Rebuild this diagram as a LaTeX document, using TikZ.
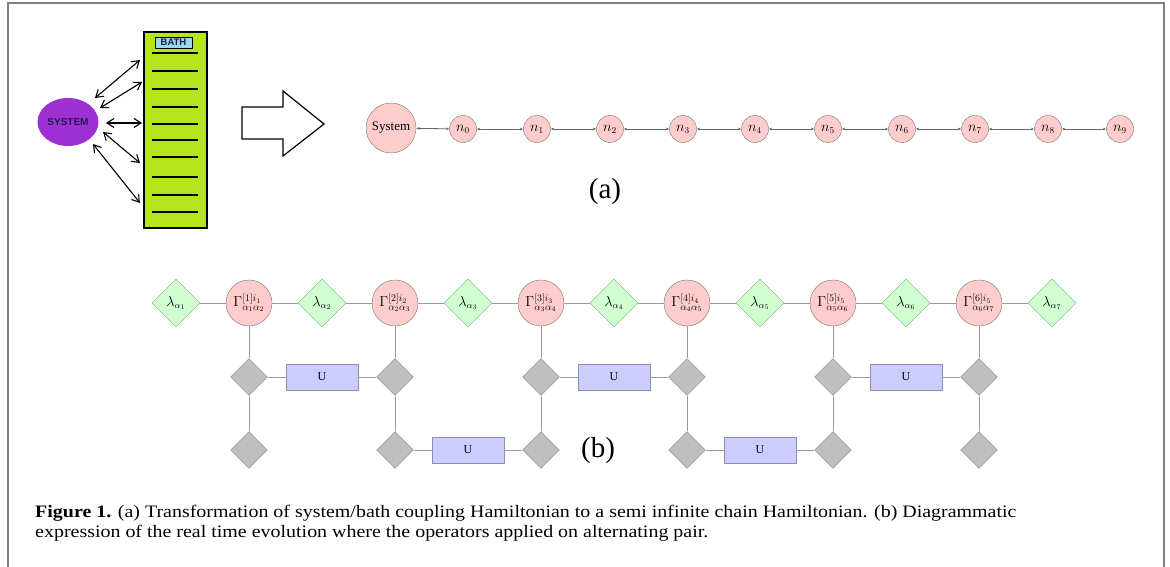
\documentclass[tikz,border=0pt]{standalone}
\usepackage{fontspec}
\setmainfont{Liberation Serif}
\newfontfamily\arialfont{Liberation Sans}
\usetikzlibrary{shapes.geometric,arrows.meta}
\definecolor{sysviolet}{HTML}{9E2FD3}
\definecolor{bathlime}{HTML}{B5E61D}
\definecolor{bathblue}{HTML}{99D9EA}
\definecolor{navytext}{HTML}{1C1C4C}
\definecolor{linkgray}{HTML}{9A9A9A}
\begin{document}
\begin{tikzpicture}[x=1pt,y=-1pt]
        \useasboundingbox (0,0) rectangle (1170,567);
        \draw [gray, line width=1.6pt] (8,567) -- (8,3) -- (1164,3) -- (1164,567);
        % system and bath
        \node (sys) [ellipse, fill=sysviolet, minimum width=61, minimum height=48, inner sep=0pt,
            font=\arialfont\bfseries\fontsize{10}{10}\selectfont, text=navytext] at (68,122) {SYSTEM};
        \node (bath) [draw, line width=2.2pt, fill=bathlime, minimum width=63, minimum height=196,
            inner sep=0pt] at (175.5,130) {};
        \node (bathtag) [draw, thin, fill=bathblue, minimum width=37, minimum height=11, inner sep=0pt,
            font=\arialfont\bfseries\fontsize{9.5}{9.5}\selectfont, text=navytext] at (173.5,42.5) {BATH};
        \foreach \y in {53,71,89,107,124,140,157,177,195,212}
            \draw [line width=1.2pt] (152,\y) -- (198,\y);
        \coordinate (b1) at (140,60);
        \coordinate (b2) at (142,82);
        \coordinate (b3) at (142,123);
        \coordinate (b4) at (140,163);
        \coordinate (b5) at (140,203);
        \begin{scope}[every edge/.style={draw, line width=1.1pt,
                {Straight Barb[length=7pt,width=9pt]}-{Straight Barb[length=7pt,width=9pt]}}]
            \path
                (95,98) edge (b1)
                (100,108) edge (b2)
                (106,123) edge (b3)
                (103,132) edge (b4)
                (93,144) edge (b5);
        \end{scope}
        \draw [line width=1.2pt, fill=white] (242,107) -- (283,107) -- (283,91) -- (324,124)
            -- (283,156) -- (283,139) -- (242,139) -- cycle;
        % chain
        \begin{scope}[every node/.style={circle, draw=black!55, fill=red!20, inner sep=0pt,
                minimum size=27, font=\fontsize{13.5}{13.5}\selectfont}]
            \node (s) [minimum size=50, font=\fontsize{13}{13}\selectfont] at (391,128) {System};
            \node (n0) at (463,129) {$n_0$};
            \node (n1) at (537,129) {$n_1$};
            \node (n2) at (610,129) {$n_2$};
            \node (n3) at (683,129) {$n_3$};
            \node (n4) at (755,129) {$n_4$};
            \node (n5) at (828,129) {$n_5$};
            \node (n6) at (902,129) {$n_6$};
            \node (n7) at (975,129) {$n_7$};
            \node (n8) at (1048,129) {$n_8$};
            \node (n9) at (1120,129) {$n_9$};
        \end{scope}
        \begin{scope}[every edge/.style={draw, black!60, thick, {Stealth[length=3.5pt]}-{Stealth[length=3.5pt]}}]
            \path
                (s) edge (n0)
                (n0) edge (n1)
                (n1) edge (n2)
                (n2) edge (n3)
                (n3) edge (n4)
                (n4) edge (n5)
                (n5) edge (n6)
                (n6) edge (n7)
                (n7) edge (n8)
                (n8) edge (n9);
        \end{scope}
        \node (lbla) [font=\fontsize{29}{29}\selectfont] at (605,192) {(a)};
        % MPS network
        \begin{scope}[every node/.style={diamond, draw=black!45!green!60, fill=green!18, inner sep=0pt,
                minimum size=48, font=\fontsize{13.5}{13.5}\selectfont}]
            \node (l1) at (176,303) {$\lambda_{\alpha_1}$};
            \node (l2) at (322,303) {$\lambda_{\alpha_2}$};
            \node (l3) at (468,303) {$\lambda_{\alpha_3}$};
            \node (l4) at (614,303) {$\lambda_{\alpha_4}$};
            \node (l5) at (760,303) {$\lambda_{\alpha_5}$};
            \node (l6) at (906,303) {$\lambda_{\alpha_6}$};
            \node (l7) at (1052,303) {$\lambda_{\alpha_7}$};
        \end{scope}
        \begin{scope}[every node/.style={circle, draw=black!55, fill=red!20, inner sep=0pt,
                minimum size=46, font=\fontsize{14.5}{14.5}\selectfont}]
            \node (g1) at (249,303) {$\Gamma^{[1]i_1}_{\alpha_1\alpha_2}$};
            \node (g2) at (395,303) {$\Gamma^{[2]i_2}_{\alpha_2\alpha_3}$};
            \node (g3) at (541,303) {$\Gamma^{[3]i_3}_{\alpha_3\alpha_4}$};
            \node (g4) at (687,303) {$\Gamma^{[4]i_4}_{\alpha_4\alpha_5}$};
            \node (g5) at (833,303) {$\Gamma^{[5]i_5}_{\alpha_5\alpha_6}$};
            \node (g6) at (979,303) {$\Gamma^{[6]i_5}_{\alpha_6\alpha_7}$};
        \end{scope}
        \begin{scope}[every node/.style={diamond, draw=black!50, fill=black!25, inner sep=0pt, minimum size=37}]
            \node (d1) at (249,377) {};
            \node (e1) at (249,450) {};
            \node (d2) at (395,377) {};
            \node (e2) at (395,450) {};
            \node (d3) at (541,377) {};
            \node (e3) at (541,450) {};
            \node (d4) at (687,377) {};
            \node (e4) at (687,450) {};
            \node (d5) at (833,377) {};
            \node (e5) at (833,450) {};
            \node (d6) at (979,377) {};
            \node (e6) at (979,450) {};
        \end{scope}
        \begin{scope}[every node/.style={rectangle, draw=blue!30!black!45, fill=blue!20, inner sep=0pt,
                minimum width=72, minimum height=26, font=\fontsize{12}{12}\selectfont}]
            \node (u1) at (322,377) {U};
            \node (u2) at (468,450) {U};
            \node (u3) at (614,377) {U};
            \node (u4) at (760,450) {U};
            \node (u5) at (906,377) {U};
        \end{scope}
        \begin{scope}[every edge/.style={draw, linkgray, thick}]
            \path
                (l1) edge (g1)
                (g1) edge (l2)
                (l2) edge (g2)
                (g2) edge (l3)
                (l3) edge (g3)
                (g3) edge (l4)
                (l4) edge (g4)
                (g4) edge (l5)
                (l5) edge (g5)
                (g5) edge (l6)
                (l6) edge (g6)
                (g6) edge (l7)
                (g1) edge (d1)
                (d1) edge (e1)
                (g2) edge (d2)
                (d2) edge (e2)
                (g3) edge (d3)
                (d3) edge (e3)
                (g4) edge (d4)
                (d4) edge (e4)
                (g5) edge (d5)
                (d5) edge (e5)
                (g6) edge (d6)
                (d6) edge (e6)
                (d1) edge (u1)
                (u1) edge (d2)
                (e2) edge (u2)
                (u2) edge (e3)
                (d3) edge (u3)
                (u3) edge (d4)
                (e4) edge (u4)
                (u4) edge (e5)
                (d5) edge (u5)
                (u5) edge (d6);
        \end{scope}
        \node (lblb) [font=\fontsize{29}{29}\selectfont] at (598,451) {(b)};
        % caption
        \node (cap1) [anchor=base west, inner sep=0pt, font=\fontsize{17.5}{20}\selectfont] at (35,517)
            {\scalebox{1.14}[1]{\textbf{Figure 1.} (a) Transformation of system/bath coupling Hamiltonian to a semi infinite chain Hamiltonian. (b) Diagrammatic}};
        \node (cap2) [anchor=base west, inner sep=0pt, font=\fontsize{17.5}{20}\selectfont] at (35,537)
            {\scalebox{1.14}[1]{expression of the real time evolution where the operators applied on alternating pair.}};
    \end{tikzpicture}
\end{document}
